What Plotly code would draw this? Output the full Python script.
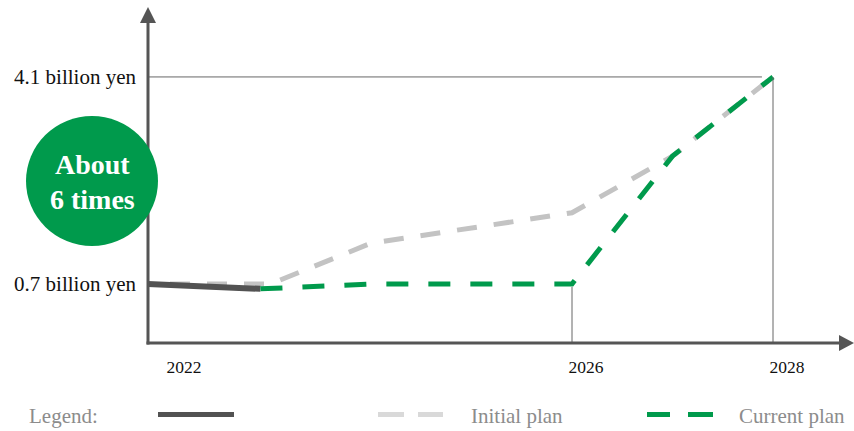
import plotly.graph_objects as go

# Sales figures (billion yen) by fiscal year
actual_years = [2021.78, 2022.9]
actual_vals = [0.70, 0.62]

initial_years = [2022, 2023, 2024, 2026, 2027, 2028]
initial_vals = [0.70, 0.70, 1.37, 1.87, 2.80, 4.10]

current_years = [2022.9, 2024, 2026, 2027, 2028]
current_vals = [0.62, 0.70, 0.70, 2.80, 4.10]

tick_years = [2022, 2026, 2028]
y_ticks = [0.7, 4.1]
y_tick_text = ["0.7 billion yen", "4.1 billion yen"]

legend_labels = ["Initial plan", "Current plan"]
badge_lines = ["About", "6 times"]

GREEN = "#009a4c"
GRAY = "#c3c3c3"
DARK = "#525252"
AXIS = "#555555"
LEGEND_TXT = "#8c8c8c"
SERIF = "Liberation Serif, Times New Roman, serif"

W, H = 854, 431
L, T, B = 148, 8, 343          # plot area edges in pixels
PW, PH = W - L, B - T


def px(x):
    return (x - L) / PW


def py(y):
    return (B - y) / PH


fig = go.Figure()

fig.add_trace(go.Scatter(x=initial_years, y=initial_vals, mode="lines",
                         line=dict(color=GRAY, width=5, dash="20px,17px"),
                         hoverinfo="skip"))
fig.add_trace(go.Scatter(x=actual_years, y=actual_vals, mode="lines",
                         line=dict(color=DARK, width=6), hoverinfo="skip"))
fig.add_trace(go.Scatter(x=current_years, y=current_vals, mode="lines",
                         line=dict(color=GREEN, width=5, dash="22px,20px"),
                         hoverinfo="skip"))

shapes = []
# reference lines at the target value and key years
shapes.append(dict(type="line", xref="x", yref="y", x0=2021.78, x1=2027.89,
                   y0=y_ticks[1], y1=y_ticks[1], line=dict(color="#666", width=1)))
shapes.append(dict(type="line", xref="x", yref="paper", x0=2028, x1=2028,
                   y0=0, y1=py(77), line=dict(color="#666", width=1)))
shapes.append(dict(type="line", xref="x", yref="paper", x0=2026, x1=2026,
                   y0=0, y1=py(287), line=dict(color="#666", width=1)))

# axes with arrowheads
shapes.append(dict(type="line", xref="paper", yref="paper", x0=0, x1=0,
                   y0=py(B + 1.5), y1=py(22), line=dict(color=AXIS, width=3)))
shapes.append(dict(type="line", xref="paper", yref="paper", x0=px(L - 1.5), x1=px(841),
                   y0=0, y1=0, line=dict(color=AXIS, width=3)))
shapes.append(dict(type="path", xref="paper", yref="paper",
                   path=f"M {px(140)} {py(23)} L {px(156)} {py(23)} L {px(148)} {py(7)} Z",
                   fillcolor=AXIS, line=dict(width=0)))
shapes.append(dict(type="path", xref="paper", yref="paper",
                   path=f"M {px(839)} {py(335)} L {px(839)} {py(351)} L {px(854)} {py(343)} Z",
                   fillcolor=AXIS, line=dict(width=0)))

# badge
shapes.append(dict(type="circle", xref="paper", yref="paper",
                   x0=px(26), x1=px(158), y0=py(246), y1=py(116),
                   fillcolor=GREEN, line=dict(width=0)))

# legend samples
LY = 414.5
shapes.append(dict(type="line", xref="paper", yref="paper", x0=px(158), x1=px(234),
                   y0=py(LY), y1=py(LY), line=dict(color=DARK, width=5)))
for a, b in [(378, 404), (418, 443)]:
    shapes.append(dict(type="line", xref="paper", yref="paper", x0=px(a), x1=px(b),
                       y0=py(LY), y1=py(LY), line=dict(color="#d9d9d9", width=5)))
for a, b in [(647, 670), (688, 713)]:
    shapes.append(dict(type="line", xref="paper", yref="paper", x0=px(a), x1=px(b),
                       y0=py(LY), y1=py(LY), line=dict(color=GREEN, width=5)))

annotations = [
    dict(xref="paper", yref="paper", x=px(92), y=py(165), text=f"<b>{badge_lines[0]}</b>",
         xanchor="center", yanchor="middle",
         showarrow=False, font=dict(family=SERIF, size=28, color="white")),
    dict(xref="paper", yref="paper", x=px(92), y=py(199), text=f"<b>{badge_lines[1]}</b>",
         xanchor="center", yanchor="middle",
         showarrow=False, font=dict(family=SERIF, size=28, color="white")),
]
for label, x0 in [("Legend:", 27), (legend_labels[0], 469), (legend_labels[1], 737)]:
    annotations.append(dict(xref="paper", yref="paper", x=px(x0), y=py(416),
                            text=label, xanchor="left", yanchor="middle",
                            showarrow=False,
                            font=dict(family=SERIF, size=21, color=LEGEND_TXT)))

fig.update_layout(
    width=W, height=H,
    margin=dict(l=L, r=0, t=T, b=H - B, pad=0),
    paper_bgcolor="white", plot_bgcolor="white",
    showlegend=False,
    shapes=shapes, annotations=annotations,
    xaxis=dict(range=[2021.781, 2028.806], showgrid=False, zeroline=False, showline=False,
               tickvals=tick_years, ticktext=[str(y) for y in tick_years], ticks="",
               ticklabelshift=14, ticklabelstandoff=11,
               tickfont=dict(family=SERIF, size=17.5, color="#111")),
    yaxis=dict(range=[-0.269, 5.232], showgrid=False, zeroline=False, showline=False,
               tickvals=y_ticks, ticktext=y_tick_text, ticks="",
               ticklabelstandoff=11,
               tickfont=dict(family=SERIF, size=21, color="#111")),
)

fig.write_html("out.html")
